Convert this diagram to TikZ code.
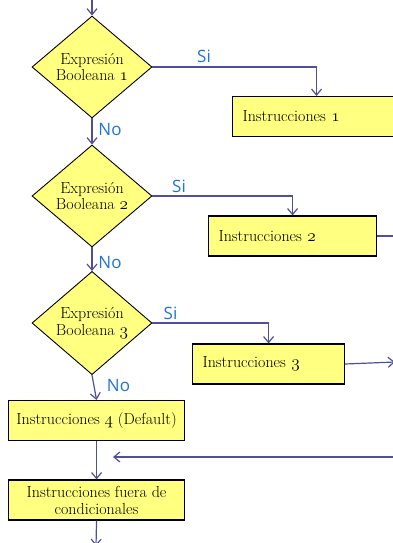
\documentclass[tikz,border=0pt]{standalone}
\usepackage{xcolor}
\usepackage{fontspec}
\newfontfamily\answerfont{Open Sans}
\usetikzlibrary{shapes.geometric,arrows.meta,positioning}

\definecolor{flowblue}{HTML}{50509A}
\definecolor{answerblue}{HTML}{1E74D8}
\definecolor{boxyellow}{HTML}{FFFF80}
\newcommand{\osnum}[1]{\ensuremath{\mathnormal{#1}}}

\tikzset{
	decision/.style={diamond, draw=black, fill=boxyellow, line width=0.9pt,
		minimum width=120pt, minimum height=102pt, inner sep=0pt, align=center,
		font=\fontsize{16}{16.5}\selectfont},
	instr/.style={rectangle, draw=black, fill=boxyellow, line width=1.1pt,
		minimum height=40pt, anchor=west, font=\fontsize{16}{17}\selectfont},
	flow/.style={draw=flowblue, line width=1.2pt, -{Straight Barb[length=6pt,width=10pt]}},
	answer/.style={text=answerblue, anchor=base, inner sep=0pt,
		font=\answerfont\fontsize{17}{20}\selectfont},
}

\begin{document}
\begin{tikzpicture}[x=1pt, y=-1pt]
	\useasboundingbox (0,0) rectangle (393,543);
	\clip (0,0) rectangle (393,543);

	\node[decision] (expr1) at (92,67) {Expresión\\Booleana \osnum{1}};
	\node[decision] (expr2) at (92,196) {Expresión\\Booleana \osnum{2}};
	\node[decision] (expr3) at (92,323) {Expresión\\Booleana \osnum{3}};

	\node[instr, minimum width=168pt, text width=148pt, align=left] (instr1) at (232,116.5) {Instrucciones \osnum{1}};
	\node[instr, minimum width=168pt, text width=148pt, align=left] (instr2) at (208,236) {Instrucciones \osnum{2}};
	\node[instr, minimum width=152pt, text width=132pt, align=left] (instr3) at (192,364) {Instrucciones \osnum{3}};
	\node[instr, minimum width=176pt, inner xsep=2pt] (instr4) at (8,420.5) {Instrucciones \osnum{4} (Default)};
	\node[instr, minimum width=176pt, inner xsep=2pt, align=center] (after) at (8,500) {Instrucciones fuera de\\condicionales};

	\coordinate (start) at (92,-2);
	\coordinate (exit2) at (400,236);
	\coordinate (exit3) at (395,362);
	\coordinate (join) at (400,457);
	\coordinate (joinend) at (113,457);
	\coordinate (stop) at (96,546);

	\node[answer] (si1) at (204,63) {Si};
	\node[answer] (si2) at (179,192) {Si};
	\node[answer] (si3) at (170.5,319) {Si};
	\node[answer] (no1) at (110,135) {No};
	\node[answer] (no2) at (110,268) {No};
	\node[answer] (no3) at (118.5,391) {No};

	\draw[flow] (start) -- (expr1.north);
	\draw[flow] (expr1.east) -| (instr1.north);
	\draw[flow] (expr1.south) -- (expr2.north);
	\draw[flow] (expr2.east) -| (instr2.north);
	\draw[flow] (expr2.south) -- (expr3.north);
	\draw[flow] (expr3.east) -| (instr3.north);
	\draw[flow] (expr3.south) -- (instr4.north);
	% the branches come back on the right
	\draw[flow, -] (instr2.east) -- (exit2);
	\draw[flow] (instr3.east) -- (exit3);
	\draw[flow] (join) -- (joinend);
	\draw[flow] (instr4.south) -- (after.north);
	\draw[flow] (after.south) -- (stop);
\end{tikzpicture}
\end{document}
